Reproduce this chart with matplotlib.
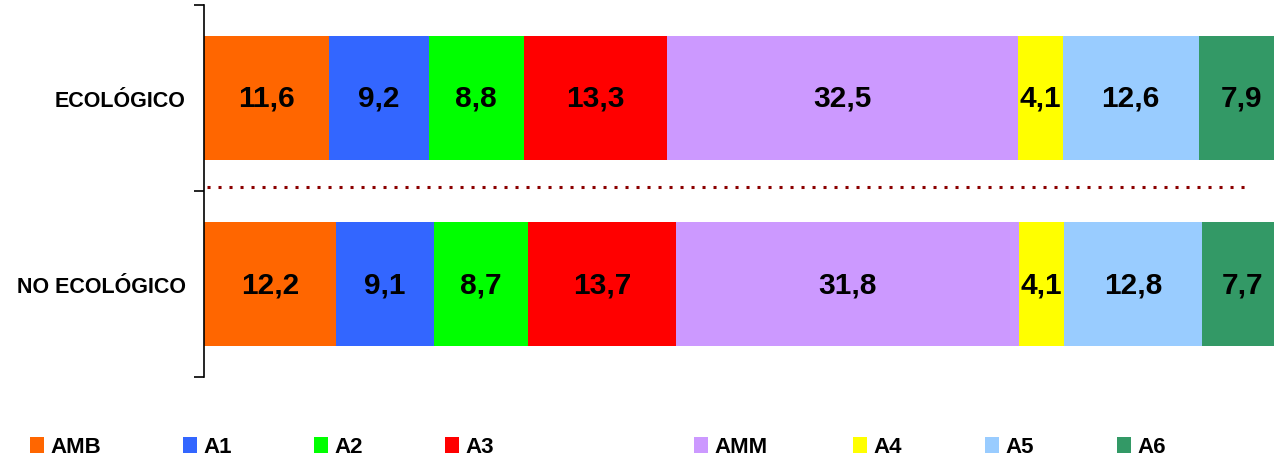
import matplotlib
matplotlib.use("Agg")
import matplotlib.pyplot as plt
from matplotlib.patches import Patch
import numpy as np

plt.rcParams['font.family'] = ['Liberation Sans', 'DejaVu Sans']

categories = ["ECOLÓGICO", "NO ECOLÓGICO"]
series = ["AMB", "A1", "A2", "A3", "AMM", "A4", "A5", "A6"]
ecologico = [11.6, 9.2, 8.8, 13.3, 32.5, 4.1, 12.6, 7.9]
no_ecologico = [12.2, 9.1, 8.7, 13.7, 31.8, 4.1, 12.8, 7.7]
colors = ["#FF6600", "#3366FF", "#00FF00", "#FF0000", "#CC99FF", "#FFFF00", "#99CCFF", "#339966"]

values = np.array([ecologico, no_ecologico])

W, H = 1274, 460
fig = plt.figure(figsize=(W / 100, H / 100), dpi=100)
ax_left, ax_right, ax_top, ax_bot = 204, 1284, 6, 378
ax = fig.add_axes([ax_left / W, (H - ax_bot) / H, (ax_right - ax_left) / W, (ax_bot - ax_top) / H])

y = np.arange(len(categories))
left = np.zeros(len(categories))
for i, s in enumerate(series):
    bars = ax.barh(y, values[:, i], left=left, height=124 / 186, color=colors[i], edgecolor='none', label=s)
    ax.bar_label(bars, labels=[f"{v:.1f}".replace('.', ',') for v in values[:, i]],
                 label_type='center', fontsize=21.5, fontweight='bold', color='black')
    left += values[:, i]

ax.set_xlim(0, 100)
ax.set_ylim(1.5, -0.5)
ax.axhline(0.48, xmin=0.003, xmax=0.970, color='#8B0000', linestyle=(0, (1, 2.6)), linewidth=2.2)

for sp in ['top', 'right', 'bottom']:
    ax.spines[sp].set_visible(False)
ax.spines['left'].set_linewidth(1.2)
ax.set_xticks([])
ax.set_yticks([-0.5, 0.5, 1.5])
ax.set_yticklabels([])
ax.tick_params(axis='y', length=7, width=1.2, direction='out')
ax.set_yticks(y, minor=True)
ax.set_yticklabels(categories, minor=True, fontsize=15.5, fontweight='bold')
ax.tick_params(axis='y', which='minor', length=0, pad=13)

legend_x = [30, 183, 314, 445, 694, 853, 985, 1117]
for i, s in enumerate(series):
    fig.legend(handles=[Patch(facecolor=colors[i], edgecolor='none')], labels=[s],
               loc='center left', bbox_to_anchor=(legend_x[i] / W, (H - 448) / H),
               frameon=False, borderpad=0, borderaxespad=0, handlelength=0.62, handleheight=0.75,
               handletextpad=0.3, prop={'size': 16, 'weight': 'bold'})

fig.savefig("out.png", dpi=100)
